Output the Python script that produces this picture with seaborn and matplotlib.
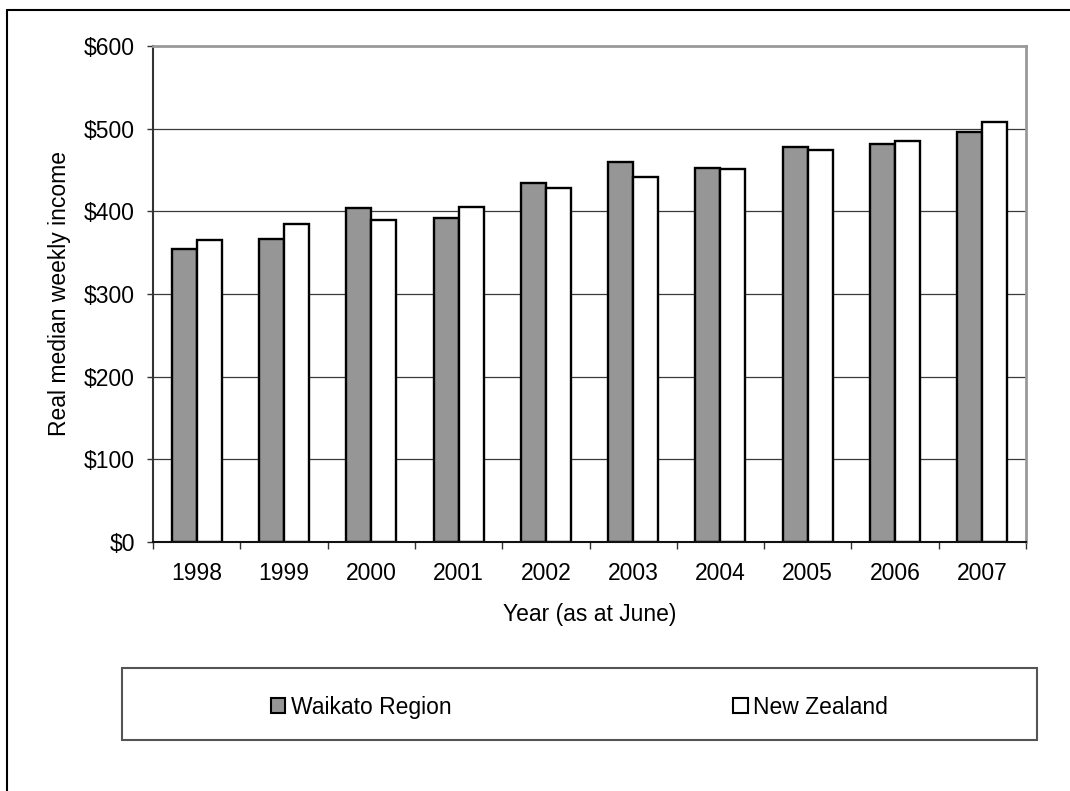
import matplotlib
matplotlib.use("Agg")
import matplotlib.pyplot as plt
import seaborn as sns
import numpy as np
import pandas as pd
from matplotlib.patches import Rectangle
from matplotlib.lines import Line2D

years = ["1998", "1999", "2000", "2001", "2002", "2003", "2004", "2005", "2006", "2007"]
waikato = [354, 366, 404, 392, 434, 460, 453, 478, 482, 496]
new_zealand = [365, 385, 389, 405, 428, 441, 451, 474, 485, 508]
series_names = ["Waikato Region", "New Zealand"]
y_ticks = [0, 100, 200, 300, 400, 500, 600]
y_tick_labels = ["$0", "$100", "$200", "$300", "$400", "$500", "$600"]

df = pd.DataFrame({
    "Year": years * 2,
    "Income": waikato + new_zealand,
    "Series": [series_names[0]] * len(years) + [series_names[1]] * len(years),
})

sns.set_style("white")
plt.rcParams["font.family"] = ["Liberation Sans", "DejaVu Sans"]
plt.rcParams["text.color"] = "black"
plt.rcParams["axes.labelcolor"] = "black"
plt.rcParams["xtick.color"] = "black"
plt.rcParams["ytick.color"] = "black"
FS = 16.5

W, H = 1070, 791
fig = plt.figure(figsize=(W / 100, H / 100), dpi=100)
ax = fig.add_axes([153 / W, 1 - 542 / H, (1026 - 153) / W, (542 - 46) / H])

palette = {series_names[0]: "#969696", series_names[1]: "#ffffff"}
sns.barplot(data=df, x="Year", y="Income", hue="Series", hue_order=series_names,
            order=years, palette=palette, width=0.573, gap=0, dodge=True,
            edgecolor="black", linewidth=1.7, errorbar=None, legend=False, ax=ax,
            zorder=3)

ax.set_xlim(-0.5, len(years) - 0.5)
ax.set_ylim(0, 600)

# grid
ax.set_yticks(y_ticks, labels=y_tick_labels)
for v in y_ticks[1:-1]:
    ax.axhline(v, color="#3a3a3a", lw=0.9, zorder=1)

# spines
for s in ["top", "right"]:
    ax.spines[s].set_visible(True)
    ax.spines[s].set_color("#999999")
    ax.spines[s].set_linewidth(2)
ax.spines["left"].set_color("#333333")
ax.spines["left"].set_linewidth(1.5)
ax.spines["bottom"].set_color("#111111")
ax.spines["bottom"].set_linewidth(1.5)
ax.spines["bottom"].set_zorder(4)

ax.tick_params(axis="y", which="major", direction="out", length=4.5, width=1,
               color="#333333", labelcolor="black", pad=8.5, labelsize=FS, left=True)
ax.set_xticks(range(len(years)), labels=years)
ax.tick_params(axis="x", which="major", length=0, pad=14.5, labelsize=FS,
               labelcolor="black")
ax.set_xticks(np.arange(-0.5, len(years), 1), minor=True)
ax.tick_params(axis="x", which="minor", direction="out", length=5, width=1,
               color="#333333", bottom=True)

ax.set_xlabel("Year (as at June)", fontsize=FS, color="black")
ax.set_ylabel("Real median weekly income", fontsize=FS, color="black")
ax.xaxis.set_label_coords(0.5, -0.123)
ax.yaxis.set_label_coords(-0.094, 0.5)

# outer frame (top and left edges visible)
fig.add_artist(Line2D([7 / W, 7 / W], [0, 1 - 10 / H], color="black", lw=1.5,
                      transform=fig.transFigure))
fig.add_artist(Line2D([7 / W, 1], [1 - 10 / H, 1 - 10 / H], color="black", lw=1.5,
                      transform=fig.transFigure))

# legend box
lx0, lx1, ly0, ly1 = 122, 1037, 668, 740
fig.add_artist(Rectangle((lx0 / W, 1 - ly1 / H), (lx1 - lx0) / W, (ly1 - ly0) / H,
                         transform=fig.transFigure, facecolor="white",
                         edgecolor="#555555", lw=1.5))
handles = [Rectangle((0, 0), 1, 1, facecolor=palette[n], edgecolor="black", lw=1.5)
           for n in series_names]
fig.legend(handles, series_names, loc="center",
           bbox_to_anchor=((lx0 + lx1) / 2 / W, 1 - (ly0 + ly1) / 2 / H - 0.004),
           ncol=2, frameon=False, fontsize=FS, handlelength=0.62, handleheight=0.62,
           handletextpad=0.25, columnspacing=12.3, borderaxespad=0,
           labelcolor="black")

fig.savefig("out.png", dpi=100)
